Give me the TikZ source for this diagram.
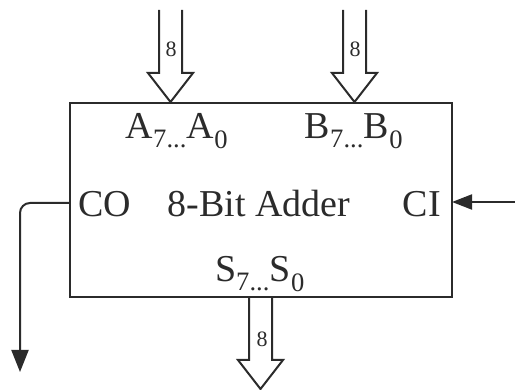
\documentclass[tikz,border=0pt]{standalone}
\usepackage{fontspec}
\setmainfont{Liberation Serif}
\usetikzlibrary{arrows.meta}
\definecolor{ink}{HTML}{2B2B2B}
\begin{document}
\begin{tikzpicture}[x=1pt,y=-1pt,
  ink/.style={draw=ink,line width=2pt},
  boxstyle/.style={draw=ink,line width=2.4pt,rectangle,minimum width=382pt,minimum height=194pt,inner sep=0pt},
  lbl/.style={inner sep=0pt,text=ink,font=\fontsize{38}{42}\selectfont},
  busnum/.style={inner sep=0pt,text=ink,font=\fontsize{22}{26}\selectfont},
  sig/.style={draw=ink,line width=2pt,-{Triangle[width=17pt,length=22pt]}}
]
\useasboundingbox (0,0) rectangle (515,390);
\node[boxstyle] (adder) at (261,200) {};
% hollow bus arrows
\newcommand{\hollowdown}[3]{% x, ytop, ybottom(tip)
  \draw[ink,line join=miter] (#1-11.5,#2) -- (#1-11.5,#3-29) -- (#1-22.5,#3-29) -- (#1,#3) -- (#1+22.5,#3-29) -- (#1+11.5,#3-29) -- (#1+11.5,#2);}
\hollowdown{170.5}{10}{102}
\hollowdown{354.5}{10}{102}
\hollowdown{260.5}{298}{389}
\node[busnum] (na) at (171,49) {8};
\node[busnum] (nb) at (355,49) {8};
\node[busnum] (ns) at (262,339) {8};
% labels
\node[lbl,anchor=base] (la) at (177,139) {A\textsubscript{7...}A\textsubscript{0}};
\node[lbl,anchor=base] (lb) at (354,139) {B\textsubscript{7...}B\textsubscript{0}};
\node[lbl,anchor=base] (ls) at (260,282) {S\textsubscript{7...}S\textsubscript{0}};
\node[lbl,anchor=base west] (lco) at (78,217) {CO};
\node[lbl,anchor=base] (lname) at (259,217) {8-Bit Adder};
\node[lbl,anchor=base east] (lci) at (441,217) {CI};
% carry signals
\coordinate (coout) at (70,203);
\coordinate (coend) at (20,372);
\coordinate (ciin) at (520,202);
\coordinate (ciend) at (452,202);
\draw[sig,rounded corners=10pt] (coout) -- (coout -| coend) -- (coend);
\draw[draw=ink,line width=2pt,-{Triangle[width=15pt,length=20pt]}] (ciin) -- (ciend);
\end{tikzpicture}
\end{document}
